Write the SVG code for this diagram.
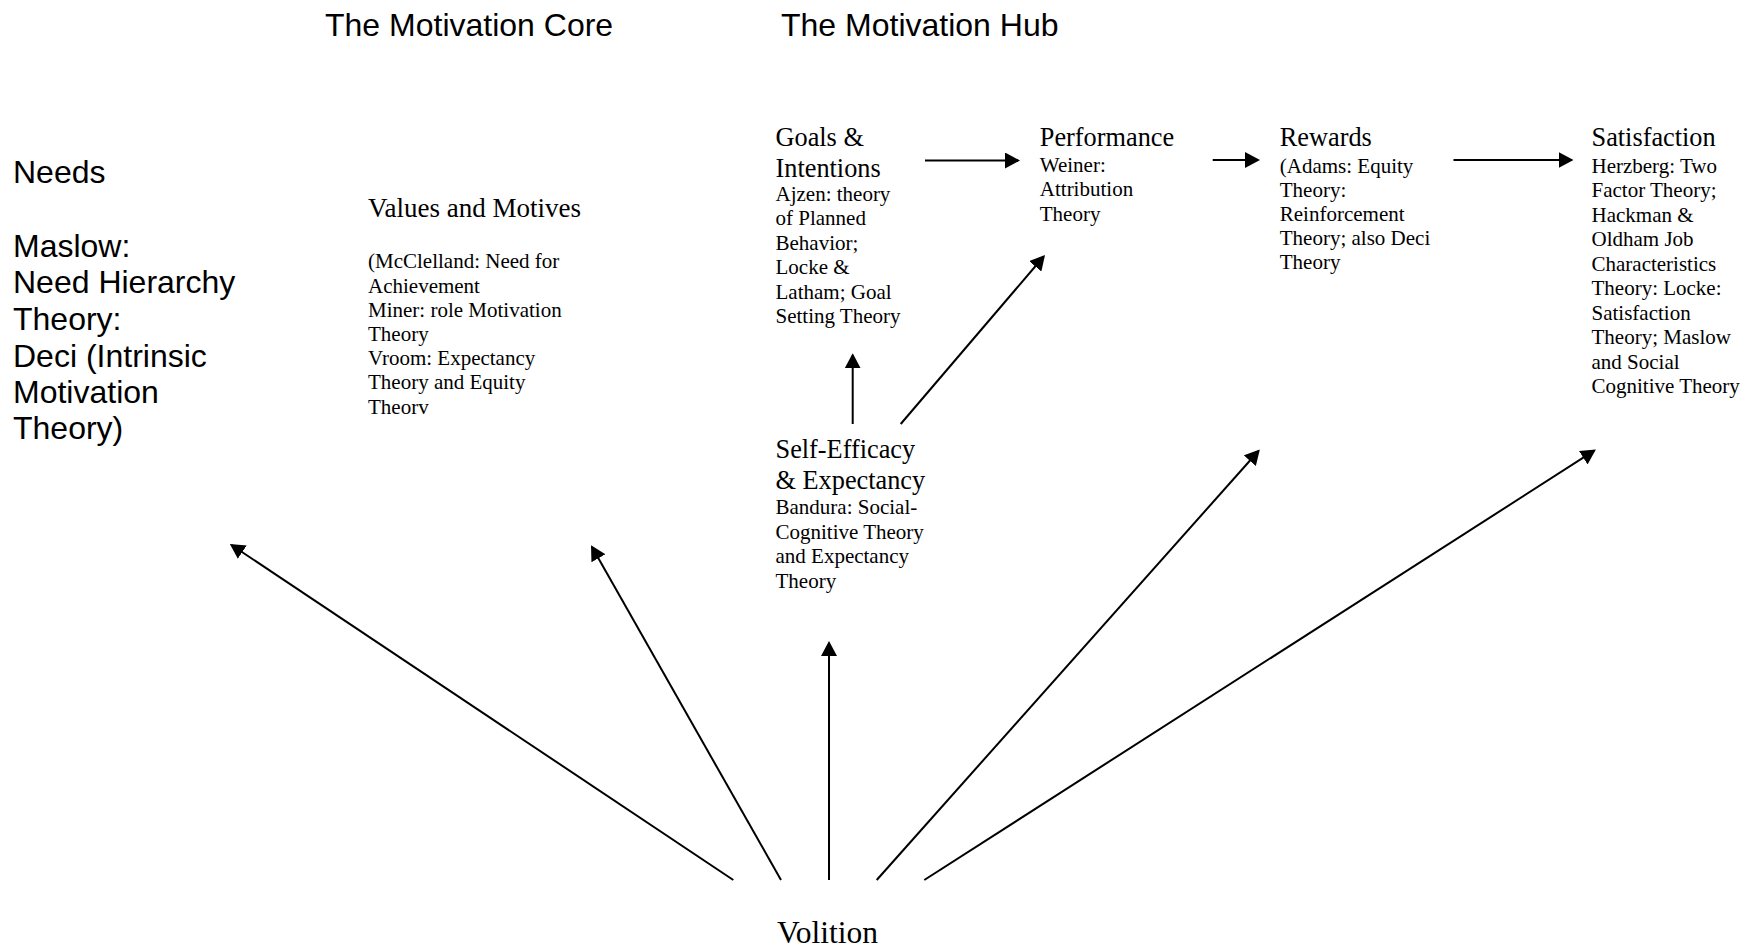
<svg xmlns="http://www.w3.org/2000/svg" width="1745" height="950" viewBox="0 0 1745 950">
<style>
.sans{font-family:"Liberation Sans",Arial,sans-serif;font-size:32px;fill:#000}
.hd{font-family:"Liberation Serif","Times New Roman",serif;font-size:26.3px;fill:#000}
.bd{font-family:"Liberation Serif","Times New Roman",serif;font-size:21px;fill:#000}
.vol{font-family:"Liberation Serif","Times New Roman",serif;font-size:31.5px;fill:#000}
.conn line{stroke:#000;stroke-width:2;fill:none;marker-end:url(#ah)}
</style>
<defs>
<marker id="ah" markerUnits="userSpaceOnUse" markerWidth="15" markerHeight="16" refX="13" refY="8" orient="auto">
<path d="M0,0 L15,8 L0,16 z" fill="#000"/>
</marker>
</defs>
<rect width="1745" height="950" fill="#fff"/>
<g id="title-core"><text class="sans" x="325" y="35.7">The Motivation Core</text></g>
<g id="title-hub"><text class="sans" x="781" y="35.7">The Motivation Hub</text></g>
<g id="needs">
<text class="sans" x="13" y="182.7">Needs</text>
<text class="sans" x="13" y="256.7">Maslow:</text>
<text class="sans" x="13" y="293.3">Need Hierarchy</text>
<text class="sans" x="13" y="330">Theory:</text>
<text class="sans" x="13" y="366.7">Deci (Intrinsic</text>
<text class="sans" x="13" y="403.3">Motivation</text>
<text class="sans" x="13" y="439.3">Theory)</text>
</g>
<g id="values">
<text class="hd" x="368" y="216.7" style="font-size:27px">Values and Motives</text>
<text class="bd" x="368" y="268.3">(McClelland: Need for</text>
<text class="bd" x="368" y="292.5">Achievement</text>
<text class="bd" x="368" y="316.7">Miner: role Motivation</text>
<text class="bd" x="368" y="340.9">Theory</text>
<text class="bd" x="368" y="365.1">Vroom: Expectancy</text>
<text class="bd" x="368" y="389.3">Theory and Equity</text>
<text class="bd" x="368" y="413.5">Theorv</text>
</g>
<g id="goals">
<text class="hd" x="775.5" y="146">Goals &amp;</text>
<text class="hd" x="775.5" y="176.7">Intentions</text>
<text class="bd" x="775.5" y="200.7">Ajzen: theory</text>
<text class="bd" x="775.5" y="225.2">of Planned</text>
<text class="bd" x="775.5" y="249.7">Behavior;</text>
<text class="bd" x="775.5" y="274.2">Locke &amp;</text>
<text class="bd" x="775.5" y="298.7">Latham; Goal</text>
<text class="bd" x="775.5" y="323.2">Setting Theory</text>
</g>
<g id="performance">
<text class="hd" x="1039.8" y="145.5">Performance</text>
<text class="bd" x="1039.8" y="172">Weiner:</text>
<text class="bd" x="1039.8" y="196.3">Attribution</text>
<text class="bd" x="1039.8" y="220.6">Theory</text>
</g>
<g id="rewards">
<text class="hd" x="1279.8" y="146">Rewards</text>
<text class="bd" x="1279.8" y="173.3">(Adams: Equity</text>
<text class="bd" x="1279.8" y="197.3">Theory:</text>
<text class="bd" x="1279.8" y="221.3">Reinforcement</text>
<text class="bd" x="1279.8" y="245.3">Theory; also Deci</text>
<text class="bd" x="1279.8" y="269.3">Theory</text>
</g>
<g id="satisfaction">
<text class="hd" x="1591.5" y="145.5">Satisfaction</text>
<text class="bd" x="1591.5" y="172.7">Herzberg: Two</text>
<text class="bd" x="1591.5" y="197.2">Factor Theory;</text>
<text class="bd" x="1591.5" y="221.7">Hackman &amp;</text>
<text class="bd" x="1591.5" y="246.2">Oldham Job</text>
<text class="bd" x="1591.5" y="270.7">Characteristics</text>
<text class="bd" x="1591.5" y="295.2">Theory: Locke:</text>
<text class="bd" x="1591.5" y="319.7">Satisfaction</text>
<text class="bd" x="1591.5" y="344.2">Theory; Maslow</text>
<text class="bd" x="1591.5" y="368.7">and Social</text>
<text class="bd" x="1591.5" y="393.2">Cognitive Theory</text>
</g>
<g id="self-efficacy">
<text class="hd" x="775.5" y="457.8">Self-Efficacy</text>
<text class="hd" x="775.5" y="488.8">&amp; Expectancy</text>
<text class="bd" x="775.5" y="514">Bandura: Social-</text>
<text class="bd" x="775.5" y="538.5">Cognitive Theory</text>
<text class="bd" x="775.5" y="563">and Expectancy</text>
<text class="bd" x="775.5" y="587.5">Theory</text>
</g>
<g id="volition"><text class="vol" x="777" y="943.3">Volition</text></g>
<g id="connectors" class="conn">
<line x1="733.3" y1="880" x2="231.5" y2="545"/>
<line x1="781" y1="880" x2="592" y2="547"/>
<line x1="829" y1="880" x2="829" y2="643"/>
<line x1="876.7" y1="880" x2="1258.5" y2="451"/>
<line x1="924.3" y1="880" x2="1594.2" y2="450.7"/>
<line x1="852.7" y1="424" x2="852.7" y2="355.3"/>
<line x1="900.7" y1="424" x2="1043.7" y2="256.5"/>
<line x1="925" y1="160.5" x2="1018" y2="160.5"/>
<line x1="1212.7" y1="160" x2="1258" y2="160"/>
<line x1="1453.5" y1="160" x2="1571.5" y2="160"/>
</g>
</svg>
